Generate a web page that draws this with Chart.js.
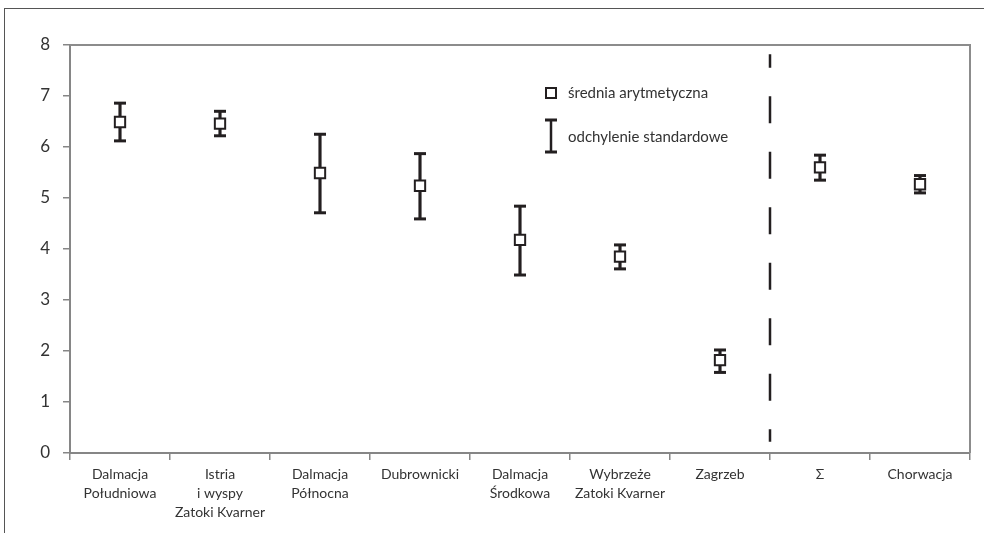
<!DOCTYPE html>
<html>
<head>
<meta charset="utf-8">
<script src="https://cdn.jsdelivr.net/npm/chart.js@4/dist/chart.umd.min.js"></script>
<style>
  html, body { margin: 0; padding: 0; background: #fff; }
  #wrap { position: relative; width: 984px; height: 533px; overflow: hidden; }
  #frame { position: absolute; left: 4px; top: 8px; width: 1000px; height: 600px; border: 1px solid #555; box-sizing: border-box; }
  canvas { position: absolute; left: 0; top: 0; }
</style>
</head>
<body>
<div id="wrap">
  <div id="frame"></div>
  <canvas id="chart" width="984" height="533"></canvas>
</div>
<script>
// --- Data ---
const categories = [
  ["Dalmacja", "Południowa"],
  ["Istria", "i wyspy", "Zatoki Kvarner"],
  ["Dalmacja", "Północna"],
  "Dubrownicki",
  ["Dalmacja", "Środkowa"],
  ["Wybrzeże", "Zatoki Kvarner"],
  "Zagrzeb",
  "Σ",
  "Chorwacja"
];
const means = [6.49, 6.46, 5.49, 5.24, 4.18, 3.85, 1.82, 5.60, 5.27];
const upper = [6.86, 6.70, 6.25, 5.87, 4.84, 4.08, 2.02, 5.84, 5.44];
const lower = [6.12, 6.22, 4.71, 4.59, 3.49, 3.61, 1.58, 5.35, 5.10];
const yTicks = [0, 1, 2, 3, 4, 5, 6, 7, 8];
const legendLabels = ["średnia arytmetyczna", "odchylenie standardowe"];
const dividerAfter = 6;          // dashed line after "Zagrzeb"
const dividerRange = [0.22, 7.82];

const INK = "#231f20";
const TXT = "#333";
const AXIS = "#868686";
const FONT = "Lato, 'Open Sans', sans-serif";

// --- Plugins ---
const frameLines = {
  id: "frameLines",
  beforeDatasetsDraw(chart) {
    const {ctx, chartArea: a} = chart;
    ctx.save();
    ctx.strokeStyle = "#8c8c8c";
    ctx.lineWidth = 2;
    ctx.beginPath();
    ctx.moveTo(a.left, a.top);
    ctx.lineTo(a.right, a.top);
    ctx.lineTo(a.right, a.bottom);
    ctx.stroke();
    ctx.restore();
  }
};

const divider = {
  id: "divider",
  afterDatasetsDraw(chart) {
    const {ctx, scales: {x, y}} = chart;
    const px = (x.getPixelForValue(dividerAfter) + x.getPixelForValue(dividerAfter + 1)) / 2;
    ctx.save();
    ctx.strokeStyle = INK;
    ctx.lineWidth = 2.5;
    ctx.setLineDash([27, 28.5]);
    ctx.lineDashOffset = 13.5;
    ctx.beginPath();
    ctx.moveTo(px, y.getPixelForValue(dividerRange[1]));
    ctx.lineTo(px, y.getPixelForValue(dividerRange[0]));
    ctx.stroke();
    ctx.restore();
  }
};

const legendBox = {
  id: "legendBox",
  afterDraw(chart) {
    const {ctx} = chart;
    const sx = 551;
    ctx.save();
    ctx.strokeStyle = INK;
    ctx.fillStyle = "#fff";
    // mean marker
    ctx.lineWidth = 2;
    ctx.fillRect(sx - 5, 88, 10, 10);
    ctx.strokeRect(sx - 5, 88, 10, 10);
    // sd marker
    ctx.lineWidth = 2.5;
    ctx.beginPath();
    ctx.moveTo(sx, 120); ctx.lineTo(sx, 152);
    ctx.stroke();
    ctx.lineWidth = 3;
    ctx.beginPath();
    ctx.moveTo(sx - 6, 120); ctx.lineTo(sx + 6, 120);
    ctx.moveTo(sx - 6, 152); ctx.lineTo(sx + 6, 152);
    ctx.stroke();
    ctx.fillStyle = TXT;
    ctx.font = `15px ${FONT}`;
    ctx.textBaseline = "middle";
    ctx.fillText(legendLabels[0], 568, 93);
    ctx.fillText(legendLabels[1], 568, 137);
    ctx.restore();
  }
};

// --- Chart ---
new Chart(document.getElementById("chart"), {
  type: "bar",
  data: {
    labels: categories,
    datasets: [
      {
        type: "line",
        label: "mean",
        data: means,
        showLine: false,
        pointStyle: "rect",
        pointRadius: 7.3,
        pointBackgroundColor: "#fff",
        pointBorderColor: INK,
        pointBorderWidth: 2,
        order: 0
      },
      {
        type: "line",
        label: "upper",
        data: upper,
        showLine: false,
        pointStyle: "line",
        pointRadius: 6,
        pointBorderColor: INK,
        pointBorderWidth: 3,
        order: 1
      },
      {
        type: "line",
        label: "lower",
        data: lower,
        showLine: false,
        pointStyle: "line",
        pointRadius: 6,
        pointBorderColor: INK,
        pointBorderWidth: 3,
        order: 1
      },
      {
        label: "sd",
        data: lower.map((lo, i) => [lo, upper[i]]),
        backgroundColor: INK,
        borderWidth: 0,
        barThickness: 2.5,
        order: 2
      }
    ]
  },
  options: {
    responsive: false,
    animation: false,
    layout: { padding: { top: 45, right: 14, left: 0, bottom: 0 } },
    plugins: {
      legend: { display: false },
      tooltip: { enabled: false }
    },
    scales: {
      x: {
        grid: { drawOnChartArea: false, drawTicks: true, tickLength: 7, color: AXIS, lineWidth: 1.5 },
        border: { color: AXIS, width: 2 },
        ticks: { color: TXT, font: { family: FONT, size: 14, lineHeight: 1.36 }, padding: 5, maxRotation: 0, autoSkip: false },
        afterFit(s) { s.height = 80; }
      },
      y: {
        min: 0,
        max: 8,
        afterBuildTicks(s) { s.ticks = yTicks.map(v => ({value: v})); },
        grid: { drawOnChartArea: false, drawTicks: true, tickLength: 7, color: AXIS, lineWidth: 1.5 },
        border: { color: AXIS, width: 2 },
        ticks: { color: TXT, font: { family: FONT, size: 17 }, padding: 13 },
        afterFit(s) { s.width = 70; }
      }
    }
  },
  plugins: [frameLines, divider, legendBox]
});
</script>
</body>
</html>
